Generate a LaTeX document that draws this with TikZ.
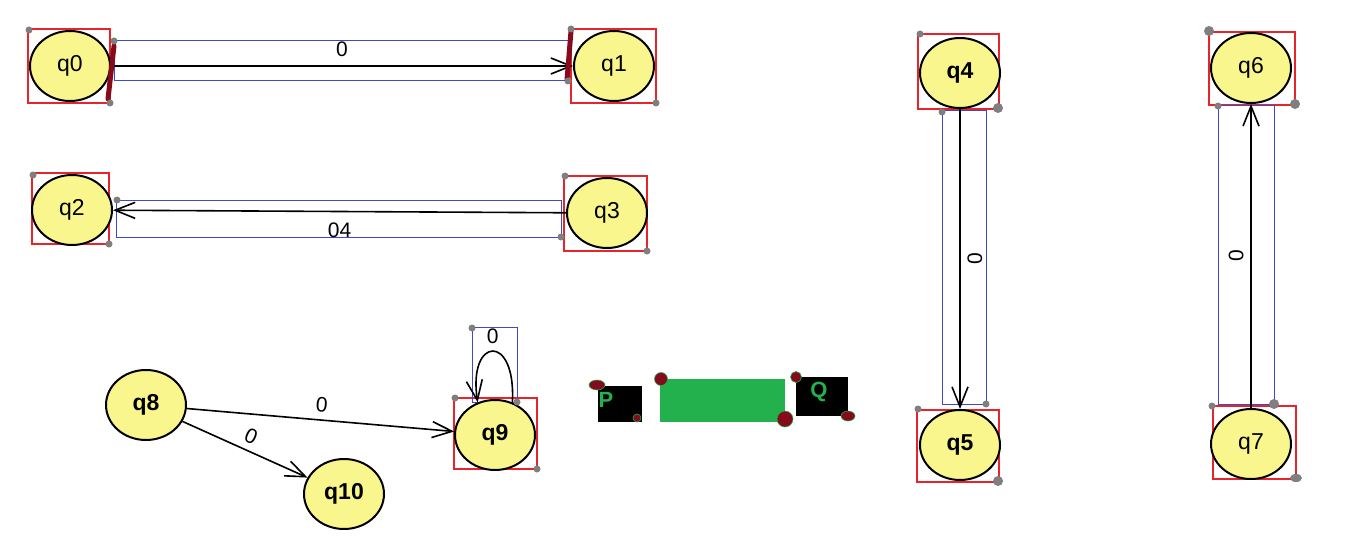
\documentclass[tikz,border=0pt]{standalone}
\usepackage{fontspec}
\setmainfont{Liberation Sans}
\usepackage{xcolor}
\usetikzlibrary{arrows.meta,shapes.geometric}
\definecolor{statefill}{HTML}{FAF68E}
\definecolor{boxred}{HTML}{E8242B}
\definecolor{boxblue}{HTML}{3B4BC8}
\definecolor{handlegray}{HTML}{7F7F7F}
\definecolor{markred}{HTML}{840A1C}
\definecolor{paintgreen}{HTML}{22B14C}
\tikzset{every node/.append style={font=\rmfamily}}

\begin{document}
\begin{tikzpicture}[x=0.5pt,y=-0.5pt,>={Straight Barb[length=10pt,width=8pt]},
  state/.style={ellipse,draw=black,line width=1pt,fill=statefill,
    minimum width=40pt,minimum height=35pt,inner sep=0pt,
    font=\fontsize{11.5}{13}\selectfont},
  edge/.style={->,line width=0.8pt},
  elabel/.style={font=\fontsize{10.5}{12}\selectfont},
  redbox/.style={draw=boxred,line width=0.6pt},
  bluebox/.style={draw=boxblue,line width=0.5pt}]
  \fill[white] (0,0) rectangle (1353,556);
  \useasboundingbox (0,0) rectangle (1353,556);

  % selection boxes
  \draw[redbox] (28,29) rectangle (110,103);
  \draw[redbox] (571,29) rectangle (656,103);
  \draw[bluebox] (114,41) rectangle (568,81);
  \draw[redbox] (32,173) rectangle (109,244);
  \draw[redbox] (564,176) rectangle (647,251);
  \draw[bluebox] (116,200) rectangle (561,237);
  \draw[redbox] (918,34) rectangle (999,109);
  \draw[redbox] (917,410) rectangle (999,482);
  \draw[bluebox] (942,111) rectangle (986,404);
  \draw[redbox] (1209,32) rectangle (1295,105);
  \draw[redbox] (1213,406) rectangle (1296,479);
  \draw[bluebox] (1218,106) rectangle (1274,404);
  \draw[redbox] (454,398) rectangle (537,469);
  \draw[bluebox] (472,327) rectangle (517,402);

  % states
  \node[state] (q0) at (70,66) {q0};
  \node[state] (q1) at (614,66) {q1};
  \node[state] (q2) at (72,210) {q2};
  \node[state] (q3) at (607,213) {q3};
  \node[state] (q4) at (960,73) {\textbf{q4}};
  \node[state] (q5) at (960,445) {\textbf{q5}};
  \node[state] (q6) at (1251,68) {q6};
  \node[state] (q7) at (1251,444) {q7};
  \node[state] (q8) at (146,405) {\textbf{q8}};
  \node[state] (q9) at (495,435) {\textbf{q9}};
  \node[state] (q10) at (344,494) {\textbf{q10}};

  % transitions
  \draw[edge] (q0) -- (q1) node[elabel,midway,above=1pt] {0};
  \draw[edge] (q3) -- (q2) node[elabel,midway,below=2pt] {04};
  \draw[edge] (q4) -- (q5) node[elabel,midway,anchor=north,rotate=90] {0};
  \draw[edge] (q7) -- (q6) node[elabel,midway,anchor=south,rotate=90] {0};
  \draw[edge] (q8) -- (q9) node[elabel,midway,above,sloped] {0};
  \draw[edge] (q8) -- (q10) node[elabel,midway,above,sloped] {0};
  \draw[edge] (q9.62) .. controls +(4,-70) and +(-10,-66) .. (q9.118)
    node[elabel,pos=0.5,above=0pt] {0};

  % endpoint markers
  \draw[markred,line width=2.5pt,line cap=round] (114,46) -- (108,99);
  \draw[markred,line width=2.5pt,line cap=round] (571,31) -- (567,80);

  % handles
  \foreach \hx/\hy in {29/30,114/41,110/103,571/29,568/81,656/103,
      33/175,117/200,109/244,565/176,561/237,647/251,
      920/34,942/112,918/409,986/404,1218/106,1212/406,
      472/328,517/402,455/398,537/469}
    \fill[handlegray] (\hx,\hy) circle (3.5);
  \foreach \hx/\hy in {998/108,998/481,1209/31,1295/104,1274/404}
    \fill[handlegray] (\hx,\hy) circle (5);
  \fill[handlegray] (1296,478) ellipse [x radius=6,y radius=4];

  % segments P and Q
  \fill[black] (598,386) rectangle (642,422);
  \node[text=paintgreen,font=\fontsize{11}{13}\selectfont\bfseries] (labP) at (606,400) {P};
  \fill[paintgreen] (660,379) rectangle (785,422);
  \fill[black] (796,377) rectangle (848,416);
  \node[text=paintgreen,font=\fontsize{11}{13}\selectfont\bfseries] (labQ) at (819,392) {Q};
  \filldraw[fill=markred,draw=paintgreen,line width=0.3pt] (597,385) ellipse [x radius=8,y radius=5];
  \filldraw[fill=markred,draw=paintgreen,line width=0.3pt] (637,418) circle (4);
  \filldraw[fill=markred,draw=paintgreen,line width=0.3pt] (661,379) circle (6.5);
  \filldraw[fill=markred,draw=paintgreen,line width=0.3pt] (785,419) circle (8);
  \filldraw[fill=markred,draw=paintgreen,line width=0.3pt] (796,377) circle (5.5);
  \filldraw[fill=markred,draw=paintgreen,line width=0.3pt] (848,416) ellipse [x radius=7,y radius=5];
\end{tikzpicture}
\end{document}
